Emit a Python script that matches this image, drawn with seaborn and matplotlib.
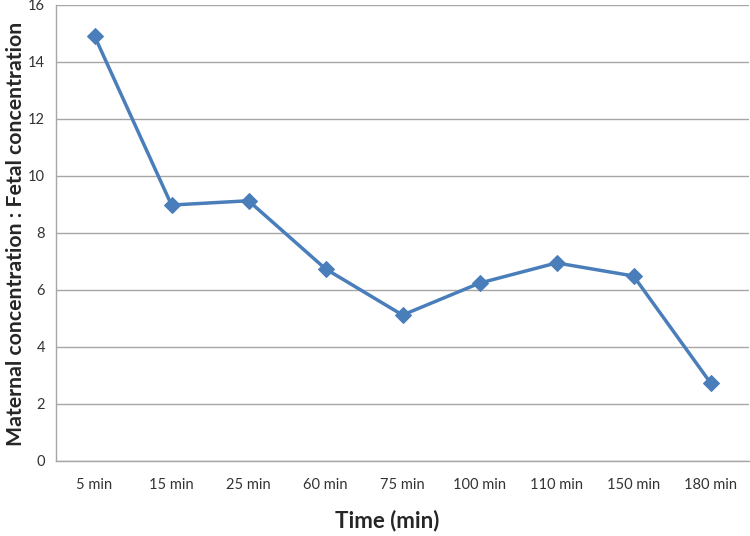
import pandas as pd
import matplotlib.pyplot as plt
import seaborn as sns

# ---- Data ----
times = ['5 min', '15 min', '25 min', '60 min', '75 min', '100 min', '110 min', '150 min', '180 min']
ratio = [14.91, 8.98, 9.13, 6.74, 5.12, 6.24, 6.95, 6.49, 2.74]

df = pd.DataFrame({'time': times, 'ratio': ratio})

sns.set_style('white')
plt.rcParams['font.family'] = ['Lato', 'DejaVu Sans']

fig = plt.figure(figsize=(7.5, 5.36), dpi=100)
ax = fig.add_axes([0.0747, 0.14, 0.924, 0.8507])

sns.lineplot(data=df, x='time', y='ratio', sort=False, marker='D', markersize=8,
             color='#4A7EBB', markeredgecolor='#4A7EBB', linewidth=2.5, ax=ax)

ax.set_xlim(-0.5, len(times) - 0.5)
ax.set_ylim(0, 16)
ax.set_yticks(range(0, 17, 2))
ax.grid(axis='y', color='#A6A6A6', linewidth=1)
ax.set_axisbelow(True)

for s in ['top', 'right']:
    ax.spines[s].set_visible(False)
for s in ['left', 'bottom']:
    ax.spines[s].set_color('#A6A6A6')
    ax.spines[s].set_linewidth(1)

ax.tick_params(axis='both', length=0, labelsize=10.5, colors='#333333', pad=8)
ax.tick_params(axis='x', pad=12)

ax.set_xlabel('')
ax.set_ylabel('')
fig.text(0.516, 0.028, 'Time (min)', fontsize=16, fontweight='bold',
         ha='center', va='center')
fig.text(0.021, 0.563, 'Maternal concentration : Fetal concentration', fontsize=15.3,
         fontweight='bold', rotation=90, ha='center', va='center')

fig.savefig('out.png', dpi=100)
